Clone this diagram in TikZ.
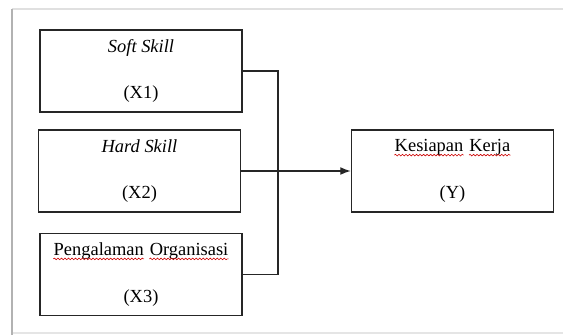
\documentclass[tikz,border=0pt]{standalone}
\usepackage{fontspec}
\setmainfont{Liberation Serif}
\usetikzlibrary{positioning,shapes,arrows,arrows.meta,decorations.pathmorphing}

\tikzset{wavy/.style={red!80!black, line width=0.35pt, decorate, decoration={snake, amplitude=0.45pt, segment length=2pt}}}
\newcommand{\squig}[1]{\tikz[baseline=(w.base)]{\node[draw=none, inner sep=0pt, minimum width=0pt, minimum height=0pt] (w) {#1};
  \draw[wavy] ([yshift=-1.9pt]w.base west) -- ([yshift=-1.9pt]w.base east);}}

\begin{document}
\begin{tikzpicture}
            [x=0.02cm,y=-0.02cm,
             varbox/.style={draw=black!85, line width=0.8pt, rectangle, align=center, minimum width=4.04cm, minimum height=1.64cm, inner sep=0pt, font=\fontsize{10.5}{12.6}\selectfont}]
          \useasboundingbox (0,0) rectangle (563,334);
          % frame
          \draw[black!12, line width=0.6pt] (12,9) -- (570,9);
          \draw[black!10, line width=0.6pt] (12,333) -- (570,333);
          \draw[black!30, line width=1.6pt] (12,9) -- (12,340);

          \node[varbox] (x1) at (141,71) {\textit{Soft Skill}\\[14pt](X1)};
          \node[varbox] (x2) at (139.5,171) {\textit{Hard Skill}\\[14pt](X2)};
          \node[varbox] (x3) at (141,274.5) {\squig{Pengalaman} \squig{Organisasi}\\[14pt](X3)};
          \node[varbox] (y) at (452.5,171) {\squig{Kesiapan} \squig{Kerja}\\[14pt](Y)};

          \coordinate (b1) at (278,71);
          \coordinate (b3) at (278,274.5);

          \draw[black!85, line width=0.8pt] (x1.east) -- (b1) -- (b3) -- (x3.east);
          \draw[black!85, line width=0.8pt, -{Latex[length=6pt,width=4.5pt]}] (x2.east) -- (y.west);
        \end{tikzpicture}
\end{document}
